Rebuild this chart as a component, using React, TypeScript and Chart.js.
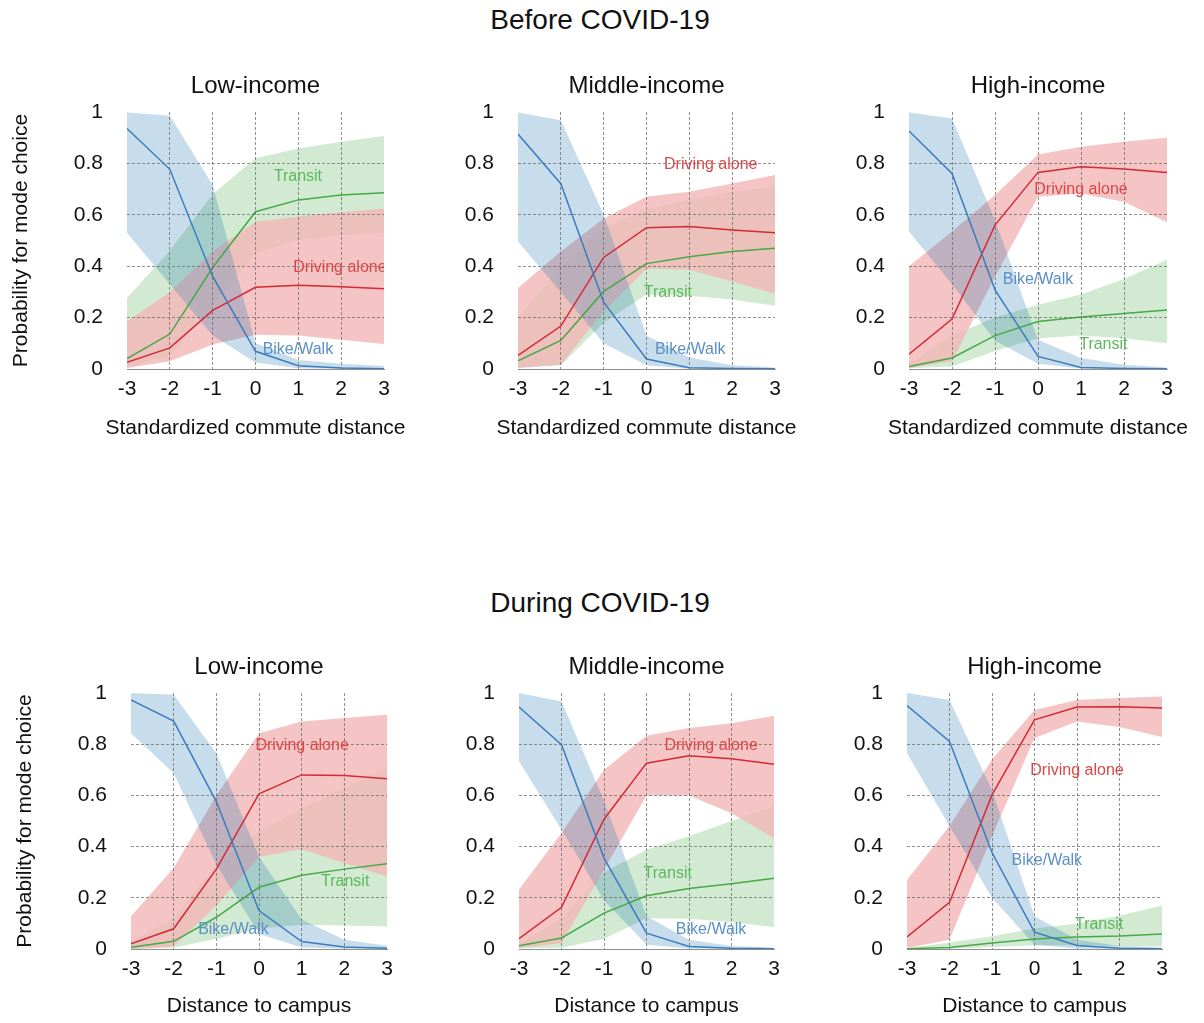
import React, { useEffect, useRef } from 'react';
import { Chart, registerables } from 'chart.js';

Chart.register(...registerables);

const FONT = '"Liberation Sans", Arial, Helvetica, sans-serif';

// ---------- data ----------
const xValues = [-3, -2, -1, 0, 1, 2, 3];
const periodTitles = ['Before COVID-19', 'During COVID-19'];
const incomeGroups = ['Low-income', 'Middle-income', 'High-income'];
const xAxisTitles = ['Standardized commute distance', 'Distance to campus'];
const yAxisTitle = 'Probability for mode choice';
const modeNames = ['Bike/Walk', 'Transit', 'Driving alone'];

// Before COVID-19: rows = Low, Middle, High income
const beforeBikeMean = [
  [0.936, 0.777, 0.36, 0.069, 0.013, 0.004, 0.001],
  [0.914, 0.721, 0.26, 0.039, 0.005, 0.002, 0.001],
  [0.926, 0.761, 0.308, 0.049, 0.006, 0.002, 0.001],
];
const beforeBikeLow = [
  [0.53, 0.33, 0.13, 0.025, 0.003, 0.001, 0.0],
  [0.496, 0.3, 0.1, 0.015, 0.001, 0.0, 0.0],
  [0.535, 0.33, 0.11, 0.02, 0.002, 0.0, 0.0],
];
const beforeBikeHigh = [
  [0.998, 0.985, 0.716, 0.1, 0.035, 0.02, 0.012],
  [0.998, 0.968, 0.6, 0.13, 0.045, 0.015, 0.006],
  [0.998, 0.975, 0.58, 0.114, 0.043, 0.017, 0.006],
];
const beforeTransitMean = [
  [0.04, 0.136, 0.395, 0.612, 0.658, 0.677, 0.686],
  [0.032, 0.111, 0.302, 0.41, 0.437, 0.457, 0.47],
  [0.01, 0.043, 0.13, 0.185, 0.202, 0.216, 0.23],
];
const beforeTransitLow = [
  [0.01, 0.05, 0.25, 0.45, 0.5, 0.52, 0.53],
  [0.005, 0.015, 0.18, 0.29, 0.285, 0.27, 0.246],
  [0.003, 0.01, 0.07, 0.12, 0.13, 0.12, 0.1],
];
const beforeTransitHigh = [
  [0.276, 0.46, 0.68, 0.82, 0.858, 0.884, 0.907],
  [0.2, 0.4, 0.55, 0.62, 0.66, 0.69, 0.71],
  [0.02, 0.13, 0.2, 0.25, 0.29, 0.35, 0.425],
];
const beforeDriveMean = [
  [0.026, 0.082, 0.228, 0.318, 0.326, 0.32, 0.312],
  [0.053, 0.167, 0.434, 0.55, 0.554, 0.541, 0.53],
  [0.058, 0.194, 0.56, 0.765, 0.787, 0.778, 0.765],
];
const beforeDriveLow = [
  [0.004, 0.03, 0.095, 0.133, 0.13, 0.114, 0.097],
  [0.004, 0.017, 0.224, 0.39, 0.386, 0.34, 0.293],
  [0.004, 0.03, 0.36, 0.67, 0.683, 0.651, 0.571],
];
const beforeDriveHigh = [
  [0.185, 0.3, 0.457, 0.573, 0.593, 0.61, 0.625],
  [0.315, 0.457, 0.586, 0.67, 0.69, 0.722, 0.755],
  [0.4, 0.535, 0.677, 0.835, 0.865, 0.884, 0.9],
];

// During COVID-19: rows = Low, Middle, High income
const duringBikeMean = [
  [0.973, 0.89, 0.576, 0.15, 0.029, 0.008, 0.003],
  [0.945, 0.798, 0.355, 0.062, 0.01, 0.003, 0.001],
  [0.951, 0.811, 0.377, 0.066, 0.014, 0.003, 0.001],
];
const duringBikeLow = [
  [0.843, 0.687, 0.33, 0.06, 0.006, 0.001, 0.0],
  [0.733, 0.466, 0.19, 0.017, 0.002, 0.0, 0.0],
  [0.765, 0.48, 0.2, 0.017, 0.002, 0.0, 0.0],
];
const duringBikeHigh = [
  [1.0, 0.993, 0.765, 0.36, 0.115, 0.036, 0.013],
  [1.0, 0.967, 0.58, 0.128, 0.036, 0.012, 0.005],
  [1.0, 0.973, 0.62, 0.128, 0.036, 0.012, 0.005],
];
const duringTransitMean = [
  [0.007, 0.03, 0.124, 0.241, 0.288, 0.312, 0.333],
  [0.013, 0.043, 0.14, 0.208, 0.236, 0.255, 0.276],
  [0.001, 0.006, 0.023, 0.039, 0.047, 0.051, 0.059],
];
const duringTransitLow = [
  [0.0, 0.005, 0.04, 0.08, 0.095, 0.092, 0.088],
  [0.003, 0.005, 0.04, 0.12, 0.118, 0.105, 0.086],
  [0.0, 0.001, 0.008, 0.015, 0.015, 0.012, 0.01],
];
const duringTransitHigh = [
  [0.03, 0.12, 0.33, 0.46, 0.55, 0.63, 0.71],
  [0.02, 0.12, 0.3, 0.388, 0.44, 0.5, 0.557],
  [0.003, 0.025, 0.05, 0.08, 0.1, 0.13, 0.17],
];
const duringDriveMean = [
  [0.02, 0.079, 0.312, 0.606, 0.68, 0.678, 0.665],
  [0.04, 0.163, 0.507, 0.726, 0.755, 0.743, 0.722],
  [0.047, 0.182, 0.602, 0.895, 0.945, 0.946, 0.941],
];
const duringDriveLow = [
  [0.0, 0.01, 0.17, 0.36, 0.39, 0.336, 0.284],
  [0.004, 0.023, 0.31, 0.6, 0.6, 0.53, 0.433],
  [0.004, 0.036, 0.44, 0.824, 0.889, 0.867, 0.828],
];
const duringDriveHigh = [
  [0.128, 0.316, 0.6, 0.843, 0.889, 0.902, 0.915],
  [0.232, 0.453, 0.7, 0.833, 0.863, 0.882, 0.911],
  [0.27, 0.48, 0.74, 0.934, 0.973, 0.98, 0.986],
];

// in-plot label anchors (data units), per period -> income -> [bike, transit, drive]
const labelAnchors = [
  [
    [[0.99, 0.075], [0.99, 0.747], [1.97, 0.393]],
    [[1.02, 0.075], [0.5, 0.297], [1.5, 0.797]],
    [[0.0, 0.347], [1.52, 0.094], [1.0, 0.697]],
  ],
  [
    [[-0.6, 0.077], [2.02, 0.264], [1.01, 0.795]],
    [[1.52, 0.077], [0.5, 0.296], [1.52, 0.795]],
    [[0.29, 0.347], [1.52, 0.097], [1.0, 0.697]],
  ],
];

// tables built from the arrays above: [period][mode]
const meanTable = [
  [beforeBikeMean, beforeTransitMean, beforeDriveMean],
  [duringBikeMean, duringTransitMean, duringDriveMean],
];
const lowTable = [
  [beforeBikeLow, beforeTransitLow, beforeDriveLow],
  [duringBikeLow, duringTransitLow, duringDriveLow],
];
const highTable = [
  [beforeBikeHigh, beforeTransitHigh, beforeDriveHigh],
  [duringBikeHigh, duringTransitHigh, duringDriveHigh],
];

// ---------- styles / layout ----------
const lineColors = ['#3b7dbd', '#46a846', '#d42a36'];
const bandColors = ['rgba(31,119,180,0.25)', 'rgba(44,160,44,0.22)', 'rgba(242,181,181,0.8)'];
const labelColors = ['#5b90c6', '#5cb85c', '#d94848'];
// lower order = drawn later (on top): blue band on top, then red, green at bottom
const bandOrders = [1, 3, 2];

const LEFT_W = 127;
const TOP_H = 50;
const BOTTOM_H = 75;
const RIGHT_PAD = 30;

const panelLayout = [
  [
    { left: 127, top: 112, w: 257, h: 257 },
    { left: 518, top: 112, w: 257, h: 257 },
    { left: 909, top: 112, w: 258, h: 257 },
  ],
  [
    { left: 131, top: 693, w: 256, h: 256 },
    { left: 519, top: 693, w: 255, h: 256 },
    { left: 907, top: 693, w: 255, h: 256 },
  ],
];
const xTitleOffset = [59, 57];
const sectionTitleCenters = [20, 603];

const toPoints = (arr: number[]) => xValues.map((x, i) => ({ x, y: arr[i] }));

function buildDatasets(p: number, g: number) {
  const ds: any[] = [];
  for (let m = 0; m < 3; m++) {
    ds.push({
      label: modeNames[m] + ' upper',
      data: toPoints(highTable[p][m][g]),
      borderWidth: 0,
      borderColor: 'rgba(0,0,0,0)',
      backgroundColor: bandColors[m],
      pointRadius: 0,
      fill: '+1',
      tension: 0,
      order: bandOrders[m],
    });
    ds.push({
      label: modeNames[m] + ' lower',
      data: toPoints(lowTable[p][m][g]),
      borderWidth: 0,
      borderColor: 'rgba(0,0,0,0)',
      backgroundColor: 'rgba(0,0,0,0)',
      pointRadius: 0,
      fill: false,
      tension: 0,
      order: bandOrders[m],
    });
  }
  for (let m = 0; m < 3; m++) {
    ds.push({
      label: modeNames[m],
      data: toPoints(meanTable[p][m][g]),
      borderColor: lineColors[m],
      backgroundColor: lineColors[m],
      borderWidth: 1.5,
      pointRadius: 0,
      fill: false,
      tension: 0,
      order: 0,
    });
  }
  return ds;
}

function makeTextPlugin(p: number, g: number) {
  return {
    id: 'panelText',
    afterDraw(chart: any) {
      const { ctx, chartArea: a, scales } = chart;
      ctx.save();
      ctx.beginPath();
      ctx.rect(a.left, a.top, a.right - a.left, a.bottom - a.top);
      ctx.clip();
      ctx.font = `16px ${FONT}`;
      ctx.textAlign = 'center';
      ctx.textBaseline = 'middle';
      for (let m = 0; m < 3; m++) {
        const [lx, ly] = labelAnchors[p][g][m];
        ctx.fillStyle = labelColors[m];
        ctx.fillText(modeNames[m], scales.x.getPixelForValue(lx), scales.y.getPixelForValue(ly));
      }
      ctx.restore();

      ctx.save();
      ctx.fillStyle = '#111';
      ctx.textAlign = 'center';
      ctx.textBaseline = 'middle';
      const cx = (a.left + a.right) / 2;
      ctx.font = `24px ${FONT}`;
      ctx.fillText(incomeGroups[g], cx, a.top - 26);
      ctx.font = `21px ${FONT}`;
      ctx.fillText(xAxisTitles[p], cx, a.bottom + xTitleOffset[p]);
      if (g === 0) {
        ctx.translate(a.left - 106, (a.top + a.bottom) / 2);
        ctx.rotate(-Math.PI / 2);
        ctx.fillText(yAxisTitle, 0, 0);
      }
      ctx.restore();
    },
  };
}

const isEdge = (v: number, a: number, b: number) => Math.abs(v - a) < 1e-6 || Math.abs(v - b) < 1e-6;

function Panel({ p, g }: { p: number; g: number }) {
  const ref = useRef<HTMLCanvasElement>(null);
  const box = panelLayout[p][g];
  const width = LEFT_W + box.w + RIGHT_PAD;
  const height = TOP_H + box.h + BOTTOM_H;

  useEffect(() => {
    if (!ref.current) return;
    const tickFont = { family: FONT, size: 21 };
    const chart = new Chart(ref.current, {
      type: 'line',
      data: { datasets: buildDatasets(p, g) },
      plugins: [makeTextPlugin(p, g)],
      options: {
        responsive: false,
        animation: false,
        devicePixelRatio: 1,
        layout: { padding: { left: 0, right: RIGHT_PAD, top: TOP_H, bottom: 0 } },
        plugins: {
          legend: { display: false },
          tooltip: { enabled: false },
          title: { display: false },
        },
        elements: { line: { tension: 0 } },
        scales: {
          x: {
            type: 'linear',
            min: -3,
            max: 3,
            afterFit: (s: any) => {
              s.height = BOTTOM_H;
            },
            ticks: {
              stepSize: 1,
              autoSkip: false,
              maxRotation: 0,
              padding: 8,
              color: '#111',
              font: tickFont,
              callback: (v: any) => String(Math.round(Number(v))),
            },
            grid: {
              drawTicks: false,
              lineWidth: 1,
              z: 1,
              color: (c: any) =>
                c.tick && isEdge(c.tick.value, -3, 3) ? 'rgba(0,0,0,0)' : 'rgba(100,100,100,0.7)',
            },
            border: { display: true, color: '#8f8f8f', width: 1, dash: [3, 2], z: 2 },
          },
          y: {
            type: 'linear',
            min: 0,
            max: 1,
            afterFit: (s: any) => {
              s.width = LEFT_W;
            },
            ticks: {
              stepSize: 0.2,
              padding: 24,
              color: '#111',
              font: tickFont,
              callback: (v: any) => String(Math.round(Number(v) * 10) / 10),
            },
            grid: {
              drawTicks: false,
              lineWidth: 1,
              z: 1,
              color: (c: any) =>
                c.tick && isEdge(c.tick.value, 0, 1) ? 'rgba(0,0,0,0)' : 'rgba(100,100,100,0.7)',
            },
            border: { display: false, dash: [3, 2], z: 2 },
          },
        },
      } as any,
    });
    return () => chart.destroy();
  }, [p, g]);

  return (
    <canvas
      ref={ref}
      width={width}
      height={height}
      style={{
        position: 'absolute',
        left: box.left - LEFT_W,
        top: box.top - TOP_H,
        width,
        height,
      }}
    />
  );
}

export default function App() {
  return (
    <div
      style={{
        position: 'fixed',
        left: 0,
        top: 0,
        width: 1204,
        height: 1023,
        background: '#ffffff',
        overflow: 'hidden',
      }}
    >
      {periodTitles.map((t, p) => (
        <div
          key={t}
          style={{
            position: 'absolute',
            left: 0,
            top: sectionTitleCenters[p] - 20,
            width: 1200,
            height: 40,
            lineHeight: '40px',
            textAlign: 'center',
            fontFamily: FONT,
            fontSize: 28,
            color: '#111',
          }}
        >
          {t}
        </div>
      ))}
      {[0, 1].map((p) => [0, 1, 2].map((g) => <Panel key={`${p}-${g}`} p={p} g={g} />))}
    </div>
  );
}
